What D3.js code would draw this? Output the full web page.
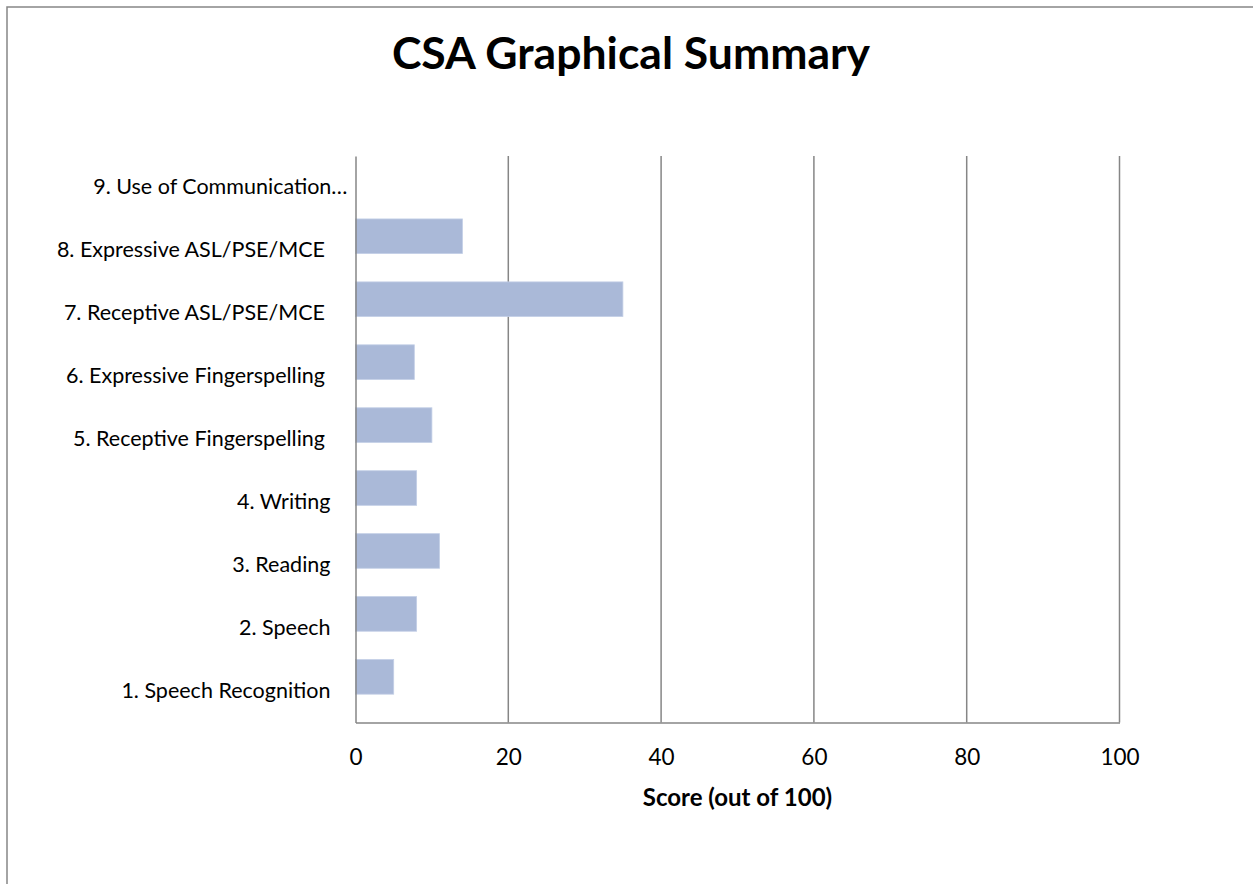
<!DOCTYPE html>
<html>
<head>
<meta charset="utf-8">
<script src="https://cdn.jsdelivr.net/npm/d3@7"></script>
<style>
  body { margin: 0; background: #fff; }
  svg text { font-family: Lato, "Open Sans", sans-serif; fill: #000; white-space: pre; }
</style>
</head>
<body>
<svg id="chart"></svg>
<script>
// Chart data
const categories = [
    "1. Speech Recognition",
    "2. Speech",
    "3. Reading",
    "4. Writing",
    "5. Receptive Fingerspelling ",
    "6. Expressive Fingerspelling ",
    "7. Receptive ASL/PSE/MCE ",
    "8. Expressive ASL/PSE/MCE ",
    "9. Use of Communication…"
];
const scores = [5, 8, 11, 8, 10, 7.7, 35, 14, 0];
const xTicks = [0, 20, 40, 60, 80, 100];
const chartTitle = "CSA Graphical Summary";
const xTitle = "Score (out of 100)";

const width = 1253, height = 884;
const margin = { top: 156, right: 134, bottom: 162, left: 355.5 };
const plotW = 1119.5 - margin.left;
const plotH = 722.5 - margin.top;

const data = categories.map((c, i) => ({ category: c, score: scores[i] }));

const svg = d3.select("#chart")
    .attr("width", width)
    .attr("height", height);

// Outer chart frame (runs off the right and bottom edges)
svg.append("rect")
    .attr("x", 7)
    .attr("y", 7)
    .attr("width", width)
    .attr("height", height)
    .attr("fill", "#fff")
    .attr("stroke", "#868686")
    .attr("stroke-width", 1.5);

svg.append("text")
    .attr("x", 631)
    .attr("y", 69)
    .attr("text-anchor", "middle")
    .style("font-size", "44.5px")
    .style("font-weight", "bold")
    .text(chartTitle);

const g = svg.append("g")
    .attr("transform", `translate(${margin.left},${margin.top})`);

const x = d3.scaleLinear()
    .domain([0, 100])
    .range([0, plotW]);

// Category 1 at the bottom, 9 at the top; labels sit at band centres
const y = d3.scaleBand()
    .domain(categories.slice().reverse())
    .range([0, plotH]);

// Bars are drawn from the top of each band
const barH = y.bandwidth() * 0.55;

// Vertical gridlines
g.selectAll("line.grid")
    .data(xTicks.filter(d => d > 0))
    .enter().append("line")
    .attr("class", "grid")
    .attr("x1", d => x(d))
    .attr("x2", d => x(d))
    .attr("y1", 0)
    .attr("y2", plotH)
    .attr("stroke", "#868686")
    .attr("stroke-width", 1.5);

// Bars
g.selectAll("rect.bar")
    .data(data)
    .enter().append("rect")
    .attr("class", "bar")
    .attr("x", 0)
    .attr("y", d => y(d.category))
    .attr("width", d => x(d.score))
    .attr("height", barH)
    .attr("fill", "#aab9d8")
    .attr("stroke", "#c3cfe6")
    .attr("stroke-width", d => d.score > 0 ? 0.8 : 0);

// X axis
const xAxis = g.append("g")
    .attr("transform", `translate(0,${plotH})`)
    .call(d3.axisBottom(x).tickValues(xTicks).tickSize(0).tickPadding(27));
xAxis.select(".domain").attr("stroke", "#868686").attr("stroke-width", 1.5);
xAxis.selectAll("text").style("font-size", "22.5px").attr("fill", "#000");

// Y axis
const yAxis = g.append("g")
    .call(d3.axisLeft(y).tickSize(0).tickPadding(25));
yAxis.select(".domain").attr("stroke", "#868686").attr("stroke-width", 1.5);
yAxis.selectAll("text")
    .style("font-size", "21.5px")
    .attr("fill", "#000")
    .attr("dx", d => d.endsWith("…") ? 17 : 0);

svg.append("text")
    .attr("x", margin.left + plotW / 2)
    .attr("y", 806)
    .attr("text-anchor", "middle")
    .style("font-size", "24px")
    .style("font-weight", "bold")
    .text(xTitle);
</script>
</body>
</html>
